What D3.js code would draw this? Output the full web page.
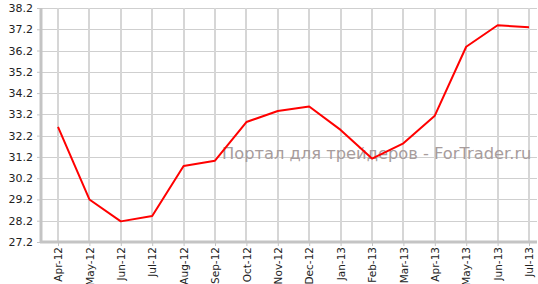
<!DOCTYPE html>
<html>
<head>
<meta charset="utf-8">
<script src="https://cdn.jsdelivr.net/npm/d3@7"></script>
<style>
  body { margin: 0; background: #fff; }
  svg text { font-family: "DejaVu Sans", Verdana, sans-serif; }
</style>
</head>
<body>
<div id="chart"></div>
<script>
// monthly values
var months = ["Apr-12", "May-12", "Jun-12", "Jul-12", "Aug-12", "Sep-12", "Oct-12", "Nov-12",
              "Dec-12", "Jan-13", "Feb-13", "Mar-13", "Apr-13", "May-13", "Jun-13", "Jul-13"];
var values = [32.61, 29.2, 28.17, 28.42, 30.77, 31.02, 32.84, 33.36,
              33.57, 32.47, 31.12, 31.84, 33.14, 36.38, 37.39, 37.29];
var yTicks = [27.2, 28.2, 29.2, 30.2, 31.2, 32.2, 33.2, 34.2, 35.2, 36.2, 37.2, 38.2];
var watermark = "Портал для трейдеров - ForTrader.ru";

var width = 538, height = 284;
var plotLeft = 41, plotRight = 537, plotTop = 8, plotBottom = 242;

var svg = d3.select("#chart").append("svg").attr("width", width).attr("height", height);

var x = d3.scalePoint().domain(months).range([58, 529]);
var y = d3.scaleLinear().domain([27.2, 38.2]).range([plotBottom, plotTop]);

// grid
svg.append("g").selectAll("line").data(yTicks).enter().append("line")
    .attr("x1", plotLeft).attr("x2", plotRight)
    .attr("y1", d => Math.round(y(d)) + 0.5).attr("y2", d => Math.round(y(d)) + 0.5)
    .attr("stroke", "#cfcfcf").attr("stroke-width", 1);
svg.append("g").selectAll("line").data(months).enter().append("line")
    .attr("x1", d => Math.round(x(d))).attr("x2", d => Math.round(x(d)))
    .attr("y1", plotTop).attr("y2", plotBottom)
    .attr("stroke", "#d6d6d6").attr("stroke-width", 2);

// watermark
svg.append("text")
    .attr("x", 222).attr("y", 159)
    .attr("font-size", 16.3)
    .attr("fill", "#a79c9c")
    .text(watermark);

// y axis
var yAxis = svg.append("g").attr("transform", "translate(" + plotLeft + ",0)")
    .call(d3.axisLeft(y).tickValues(yTicks).tickFormat(d3.format(".1f")).tickSize(4).tickPadding(4));
yAxis.select(".domain").attr("stroke", "#c4c4c4").attr("stroke-width", 3).attr("d", "M0," + plotTop + "V" + (plotBottom + 1));
yAxis.selectAll(".tick line").attr("stroke", "#c4c4c4");
yAxis.selectAll(".tick text").attr("fill", "#222").attr("font-size", 11)
    .attr("font-family", "DejaVu Sans, Verdana, sans-serif");

// x axis
var xAxis = svg.append("g").attr("transform", "translate(0," + plotBottom + ")")
    .call(d3.axisBottom(x).tickSize(4));
xAxis.select(".domain").attr("stroke", "#c4c4c4").attr("stroke-width", 3).attr("d", "M" + (plotLeft - 1) + ",0H" + plotRight);
xAxis.selectAll(".tick line").attr("stroke", "#c4c4c4");
xAxis.selectAll(".tick text")
    .attr("fill", "#222")
    .attr("font-size", 10.5)
    .attr("font-family", "Liberation Sans, Arial, sans-serif")
    .attr("text-anchor", "end")
    .attr("transform", "rotate(-90)")
    .attr("x", -5).attr("y", 0).attr("dy", "0.35em");

// line
var line = d3.line().x((d, i) => x(months[i])).y(d => y(d));
svg.append("path").datum(values)
    .attr("d", line)
    .attr("fill", "none")
    .attr("stroke", "#ff0000")
    .attr("stroke-width", 2)
    .attr("stroke-linejoin", "round");
</script>
</body>
</html>
